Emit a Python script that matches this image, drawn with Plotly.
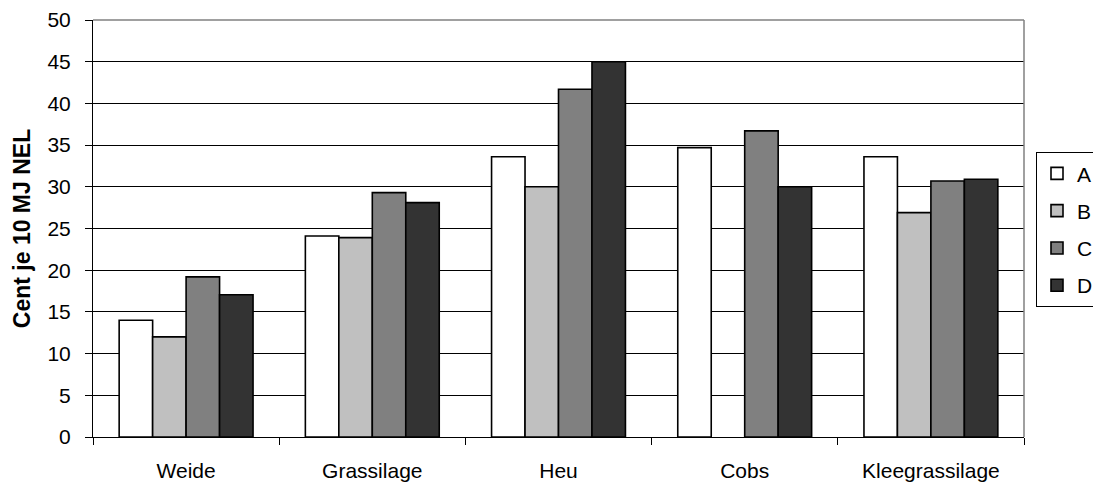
import plotly.graph_objects as go

categories = ["Weide", "Grassilage", "Heu", "Cobs", "Kleegrassilage"]
series_names = ["A", "B", "C", "D"]
values_a = [14.0, 24.1, 33.6, 34.7, 33.6]
values_b = [12.0, 23.9, 30.0, None, 26.9]
values_c = [19.2, 29.3, 41.7, 36.7, 30.7]
values_d = [17.05, 28.1, 45.0, 30.0, 30.9]
colors = ["#FFFFFF", "#C0C0C0", "#808080", "#333333"]
y_ticks = [0, 5, 10, 15, 20, 25, 30, 35, 40, 45, 50]

FONT = "Liberation Sans, Arial, sans-serif"
W, H = 1093, 486
L, R, T, B = 93, 1024, 19.5, 437.5

fig = go.Figure()
for name, vals, col in zip(series_names, [values_a, values_b, values_c, values_d], colors):
    fig.add_trace(go.Bar(
        x=categories, y=vals, name=name, legendgroup=name,
        marker=dict(color=col, line=dict(color="#000000", width=1.6)),
    ))

fig.update_layout(
    width=W, height=H,
    margin=dict(l=L, r=W - R, t=T, b=H - B, autoexpand=False),
    paper_bgcolor="#FFFFFF", plot_bgcolor="#FFFFFF",
    barmode="group", bargap=0.281, bargroupgap=0,
    font=dict(family=FONT, size=21, color="#000000"),
    showlegend=True,
    legend=dict(
        x=(1036 - L) / (R - L), y=(B - 152) / (B - T),
        xanchor="left", yanchor="top",
        bordercolor="#000000", borderwidth=1, bgcolor="#FFFFFF",
        font=dict(family=FONT, size=21, color="#000000"),
        tracegroupgap=7, traceorder="grouped",
    ),
    xaxis=dict(
        type="category", tickson="boundaries",
        showline=True, linecolor="#000000", linewidth=1,
        ticks="outside", ticklen=7, tickcolor="#000000", tickwidth=1,
        showgrid=False, ticklabelstandoff=15,
        tickfont=dict(family=FONT, size=21, color="#000000"),
    ),
    yaxis=dict(
        range=[0, 50], tickvals=y_ticks,
        showline=True, linecolor="#000000", linewidth=1,
        ticks="outside", ticklen=7, tickcolor="#000000", tickwidth=1,
        showgrid=True, gridcolor="#000000", gridwidth=1,
        zeroline=False, ticklabelstandoff=10,
        tickfont=dict(family=FONT, size=21, color="#000000"),
        title=dict(text="<b>Cent je 10 MJ NEL</b>", standoff=10,
                   font=dict(family=FONT, size=23, color="#000000")),
    ),
    shapes=[
        dict(type="line", xref="paper", yref="paper", x0=0, x1=1, y0=1, y1=1,
             line=dict(color="#808080", width=1.5), layer="above"),
        dict(type="line", xref="paper", yref="paper", x0=1, x1=1, y0=0, y1=1,
             line=dict(color="#808080", width=1.5), layer="above"),
    ],
)

fig.write_html("out.html")
